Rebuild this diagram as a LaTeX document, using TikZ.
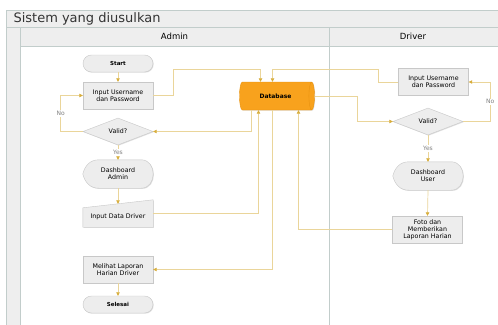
\documentclass[tikz,border=0pt]{standalone}
\usepackage{fontspec}
\setmainfont{DejaVu Sans}
\usepackage{tikz}
\usetikzlibrary{arrows.meta,calc,shapes.geometric,shadows}
\definecolor{lanegray}{HTML}{EEEEEE}
\definecolor{laneline}{HTML}{C2CDCB}
\definecolor{boxgray}{HTML}{EDEDED}
\definecolor{boxline}{HTML}{C8C8C8}
\definecolor{flowgold}{HTML}{EAD59A}
\definecolor{tipgold}{HTML}{D8AE3C}
\definecolor{dborange}{HTML}{F8A21D}
\definecolor{dbline}{HTML}{E8920F}
\pgfdeclarelayer{back}
\pgfdeclarelayer{bg}
\pgfsetlayers{back,bg,main}
\newcommand{\boxfont}{\fontsize{6.3}{7}\selectfont}
\newcommand{\dispoutline}[1]{%
 \draw[outl] (#1.west) .. controls +(2,8) and +(-9,0) .. ($(#1.north west)+(16,0)$)
 -- ($(#1.north east)+(-12,0)$) .. controls +(16,0) and +(16,0) .. ($(#1.south east)+(-12,0)$)
 -- ($(#1.south west)+(16,0)$) .. controls +(-9,0) and +(2,-8) .. (#1.west) -- cycle;}

\begin{document}
\begin{tikzpicture}[x=1pt,y=1pt,
 every node/.style={align=center},
 shad/.style={drop shadow={shadow xshift=.7pt,shadow yshift=-.7pt,opacity=.25}},
 proc/.style={draw=boxline,fill=boxgray,shad,minimum width=70pt,minimum height=27pt,inner sep=1pt,font=\boxfont},
 term/.style={proc,rounded corners=8.5pt,minimum height=17pt,font=\fontsize{5.5}{6.5}\selectfont\bfseries},
 decis/.style={proc,diamond,minimum width=70pt,minimum height=27pt,inner sep=0pt},
 txt/.style={minimum width=70pt,minimum height=28pt,inner sep=0pt,font=\boxfont},
 outl/.style={draw=boxline,fill=boxgray,shad},
 lane/.style={draw=laneline,line width=.9pt},
 flow/.style={draw=flowgold,line width=.7pt,-{Triangle[length=3.5pt,width=3.5pt,color=tipgold]}},
 lbl/.style={fill=white,inner sep=.8pt,text=black!50,font=\fontsize{6}{6}\selectfont}]
\useasboundingbox (0,0) rectangle (498,-324);
\node[anchor=west,text=black!80,font=\fontsize{13}{13}\selectfont] (title) at (10,-18.5) {Sistem yang diusulkan};
\node[font=\fontsize{8.5}{9}\selectfont] (hadmin) at (174.5,-36.5) {Admin};
\node[font=\fontsize{8.5}{9}\selectfont] (hdriver) at (413,-36.5) {Driver};

\node[term] (start) at (118,-63.5) {Start};
\node[proc] (inA) at (118,-95.5) {Input Username\\dan Password};
\node[decis] (valA) at (118,-131.5) {Valid?};
\node[txt] (dashA) at (118,-174) {Dashboard\\Admin};
\node[txt,minimum height=20pt] (idd) at (118,-217) {Input Data Driver};
\node[proc] (mel) at (118,-269.5) {Melihat Laporan\\Harian Driver};
\node[term] (sel) at (118,-304.5) {Selesai};
\node[cylinder,draw=dbline,fill=dborange,shad,minimum width=28pt,minimum height=75pt,aspect=1.2,inner sep=0pt,
 font=\fontsize{6}{6}\selectfont\bfseries] (db) at (275.5,-96) {Database};
\node[proc] (inD) at (433.5,-82) {Input Username\\dan Password};
\node[decis] (valD) at (428,-121.5) {Valid?};
\node[txt] (dashU) at (428,-176) {Dashboard\\User};
\node[proc] (foto) at (427.5,-229.5) {Foto dan\\Memberikan\\Laporan Harian};

\begin{pgfonlayer}{bg}
\dispoutline{dashA}
\dispoutline{dashU}
\draw[outl] (idd.south west) -- ($(idd.north west)+(0,-1)$) -- ($(idd.north east)+(0,7)$) -- (idd.south east) -- cycle;
\end{pgfonlayer}
\begin{pgfonlayer}{back}
\draw[lane,fill=lanegray] (6,-10) rectangle (502,-330);
\draw[lane,fill=white] (20,-46) rectangle (502,-330);
\draw[lane] (6,-27) -- (502,-27);
\draw[lane] (20,-27) -- (20,-330);
\draw[lane] (329,-27) -- (329,-330);
\end{pgfonlayer}

\draw[flow] (start.south) -- (inA.north);
\draw[flow] (valA.south) -- node[lbl] {Yes} (dashA.north);
\draw[flow] (dashA.south) -- ([yshift=3pt]idd.north);
\draw[flow] (mel.south) -- (sel.north);
\draw[flow] (valA.west) -- ++(-22,0) |- node[lbl,pos=.25] {No} (inA.west);
\draw[flow] (inA.east) -- ++(20,0) -- ++(0,26) -| ([xshift=-15pt]db.north);
\draw[flow] ([xshift=-24.5pt]db.south) |- (valA.east);
\draw[flow] ([yshift=4pt]idd.east) -| ([xshift=-17pt]db.south);
\draw[flow] ([xshift=-3pt]db.south) |- (mel.east);
\draw[flow] (inD.west) -- ++(-20,0) -- ++(0,13) -| ([xshift=-3pt]db.north);
\draw[flow] (db.east) -- ++(43,0) |- (valD.west);
\draw[flow] (valD.east) -- ++(27,0) |- node[lbl,pos=.25] {No} (inD.east);
\draw[flow] (valD.south) -- node[lbl] {Yes} (dashU.north);
\draw[flow] (dashU.south) -- (foto.north);
\draw[flow] (foto.west) -| ([xshift=23pt]db.south);
\end{tikzpicture}
\end{document}
